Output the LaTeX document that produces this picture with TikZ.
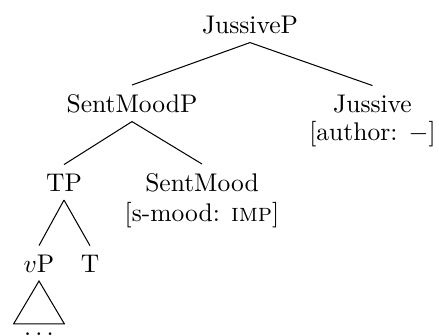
\documentclass[tikz,border=0pt]{standalone}
\begin{document}
\begin{tikzpicture}[x=0.392pt, y=-0.392pt,
  lbl/.style={anchor=base, inner sep=0.3333em},
  feat/.style={anchor=base, inner sep=0.3333em},
  branch/.style={draw, line width=0.4pt}]
  \useasboundingbox (0,0) rectangle (439,335);

  % labels of the tree
  \node[lbl] (jp)   at (250,33)  {JussiveP};
  \node[lbl] (smp)  at (132,112) {SentMoodP};
  \node[lbl] (jus)  at (372.5,112) {Jussive};
  \node[feat] (jusf) at (372.5,140) {[author: $-$]};
  \node[lbl] (tp)   at (64,191)  {TP};
  \node[lbl] (sm)   at (202,191) {SentMood};
  \node[feat] (smf) at (202,221) {[s-mood: \textsc{imp}]};
  \node[lbl] (vp)   at (39,272)  {$v$P};
  \node[lbl] (t)    at (90,272)  {T};
  \node[lbl, inner xsep=3.9pt] (dots) at (39,335.5) {$\ldots$};

  % branches
  \path[branch] (jp.south) -- (smp.north);
  \path[branch] (jp.south) -- (jus.north);
  \path[branch] (smp.south) -- (tp.north);
  \path[branch] (smp.south) -- (sm.north);
  \path[branch] (tp.south) -- (vp.north);
  \path[branch] (tp.south) -- (t.north);
  % roof over the vP
  \path[branch] (vp.south) -- (dots.north west) -- (dots.north east) -- cycle;
\end{tikzpicture}
\end{document}
